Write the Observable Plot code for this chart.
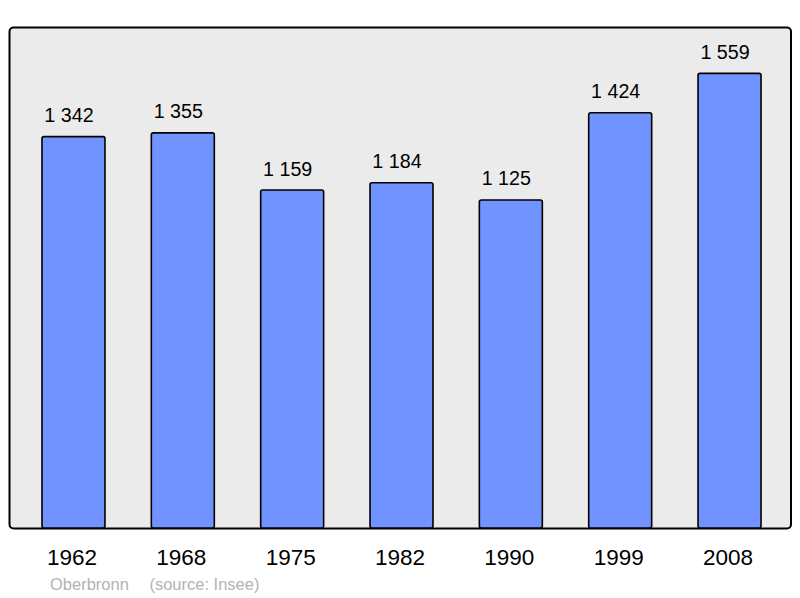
<!DOCTYPE html>
<html>
<head>
<meta charset="utf-8">
<script src="https://cdn.jsdelivr.net/npm/d3@7"></script>
<script src="https://cdn.jsdelivr.net/npm/@observablehq/plot@0.6"></script>
<style>
  html, body { margin: 0; padding: 0; background: #ffffff; }
  #chart { width: 800px; font-family: "Liberation Sans", Arial, sans-serif; }
  #caption { font-family: "Liberation Sans", Arial, sans-serif; font-size: 16.5px; color: #b3b3b3; line-height: 20px; padding-top: 6px; padding-left: 50px; white-space: nowrap; }
  #caption span + span { margin-left: 20.5px; }
</style>
</head>
<body>
<div id="chart"></div>
<script>
const years = ["1962", "1968", "1975", "1982", "1990", "1999", "2008"];
const population = [1342, 1355, 1159, 1184, 1125, 1424, 1559];
const captionPlace = "Oberbronn";
const captionSource = "(source: Insee)";

const data = years.map((y, i) => ({year: y, pop: population[i]}));
const fmt = d3.formatLocale({thousands: " ", grouping: [3], decimal: ","}).format(",d");

const chart = Plot.plot({
  width: 800,
  height: 568,
  marginLeft: 9,
  marginRight: 9.5,
  marginTop: 27,
  marginBottom: 40,
  style: {fontFamily: "Liberation Sans, Arial, sans-serif", background: "transparent", overflow: "visible"},
  x: {domain: years, range: [18.8, 784.2], paddingInner: 0.424, paddingOuter: 0.212, round: false},
  y: {domain: [0, 1718], axis: null},
  marks: [
    Plot.frame({fill: "#ebebeb", stroke: "#000000", strokeWidth: 2, rx: 4}),
    Plot.barY(data, {x: "year", y: "pop", fill: "#7093ff", stroke: "#000000", strokeWidth: 1.6, rx: 2}),
    Plot.text(data, {x: "year", y: "pop", text: d => fmt(d.pop), dx: -5, dy: -15, lineAnchor: "bottom", fontSize: 19.7, fill: "#000000"}),
    Plot.axisX({tickSize: 0, tickPadding: 21, dx: -2, fontSize: 22.5, fill: "#000000", label: null})
  ]
});
document.getElementById("chart").appendChild(chart);
const cap = document.createElement("div");
cap.id = "caption";
const s1 = document.createElement("span"); s1.textContent = captionPlace;
const s2 = document.createElement("span"); s2.textContent = captionSource;
cap.appendChild(s1); cap.appendChild(s2);
document.body.appendChild(cap);
</script>
</body>
</html>
